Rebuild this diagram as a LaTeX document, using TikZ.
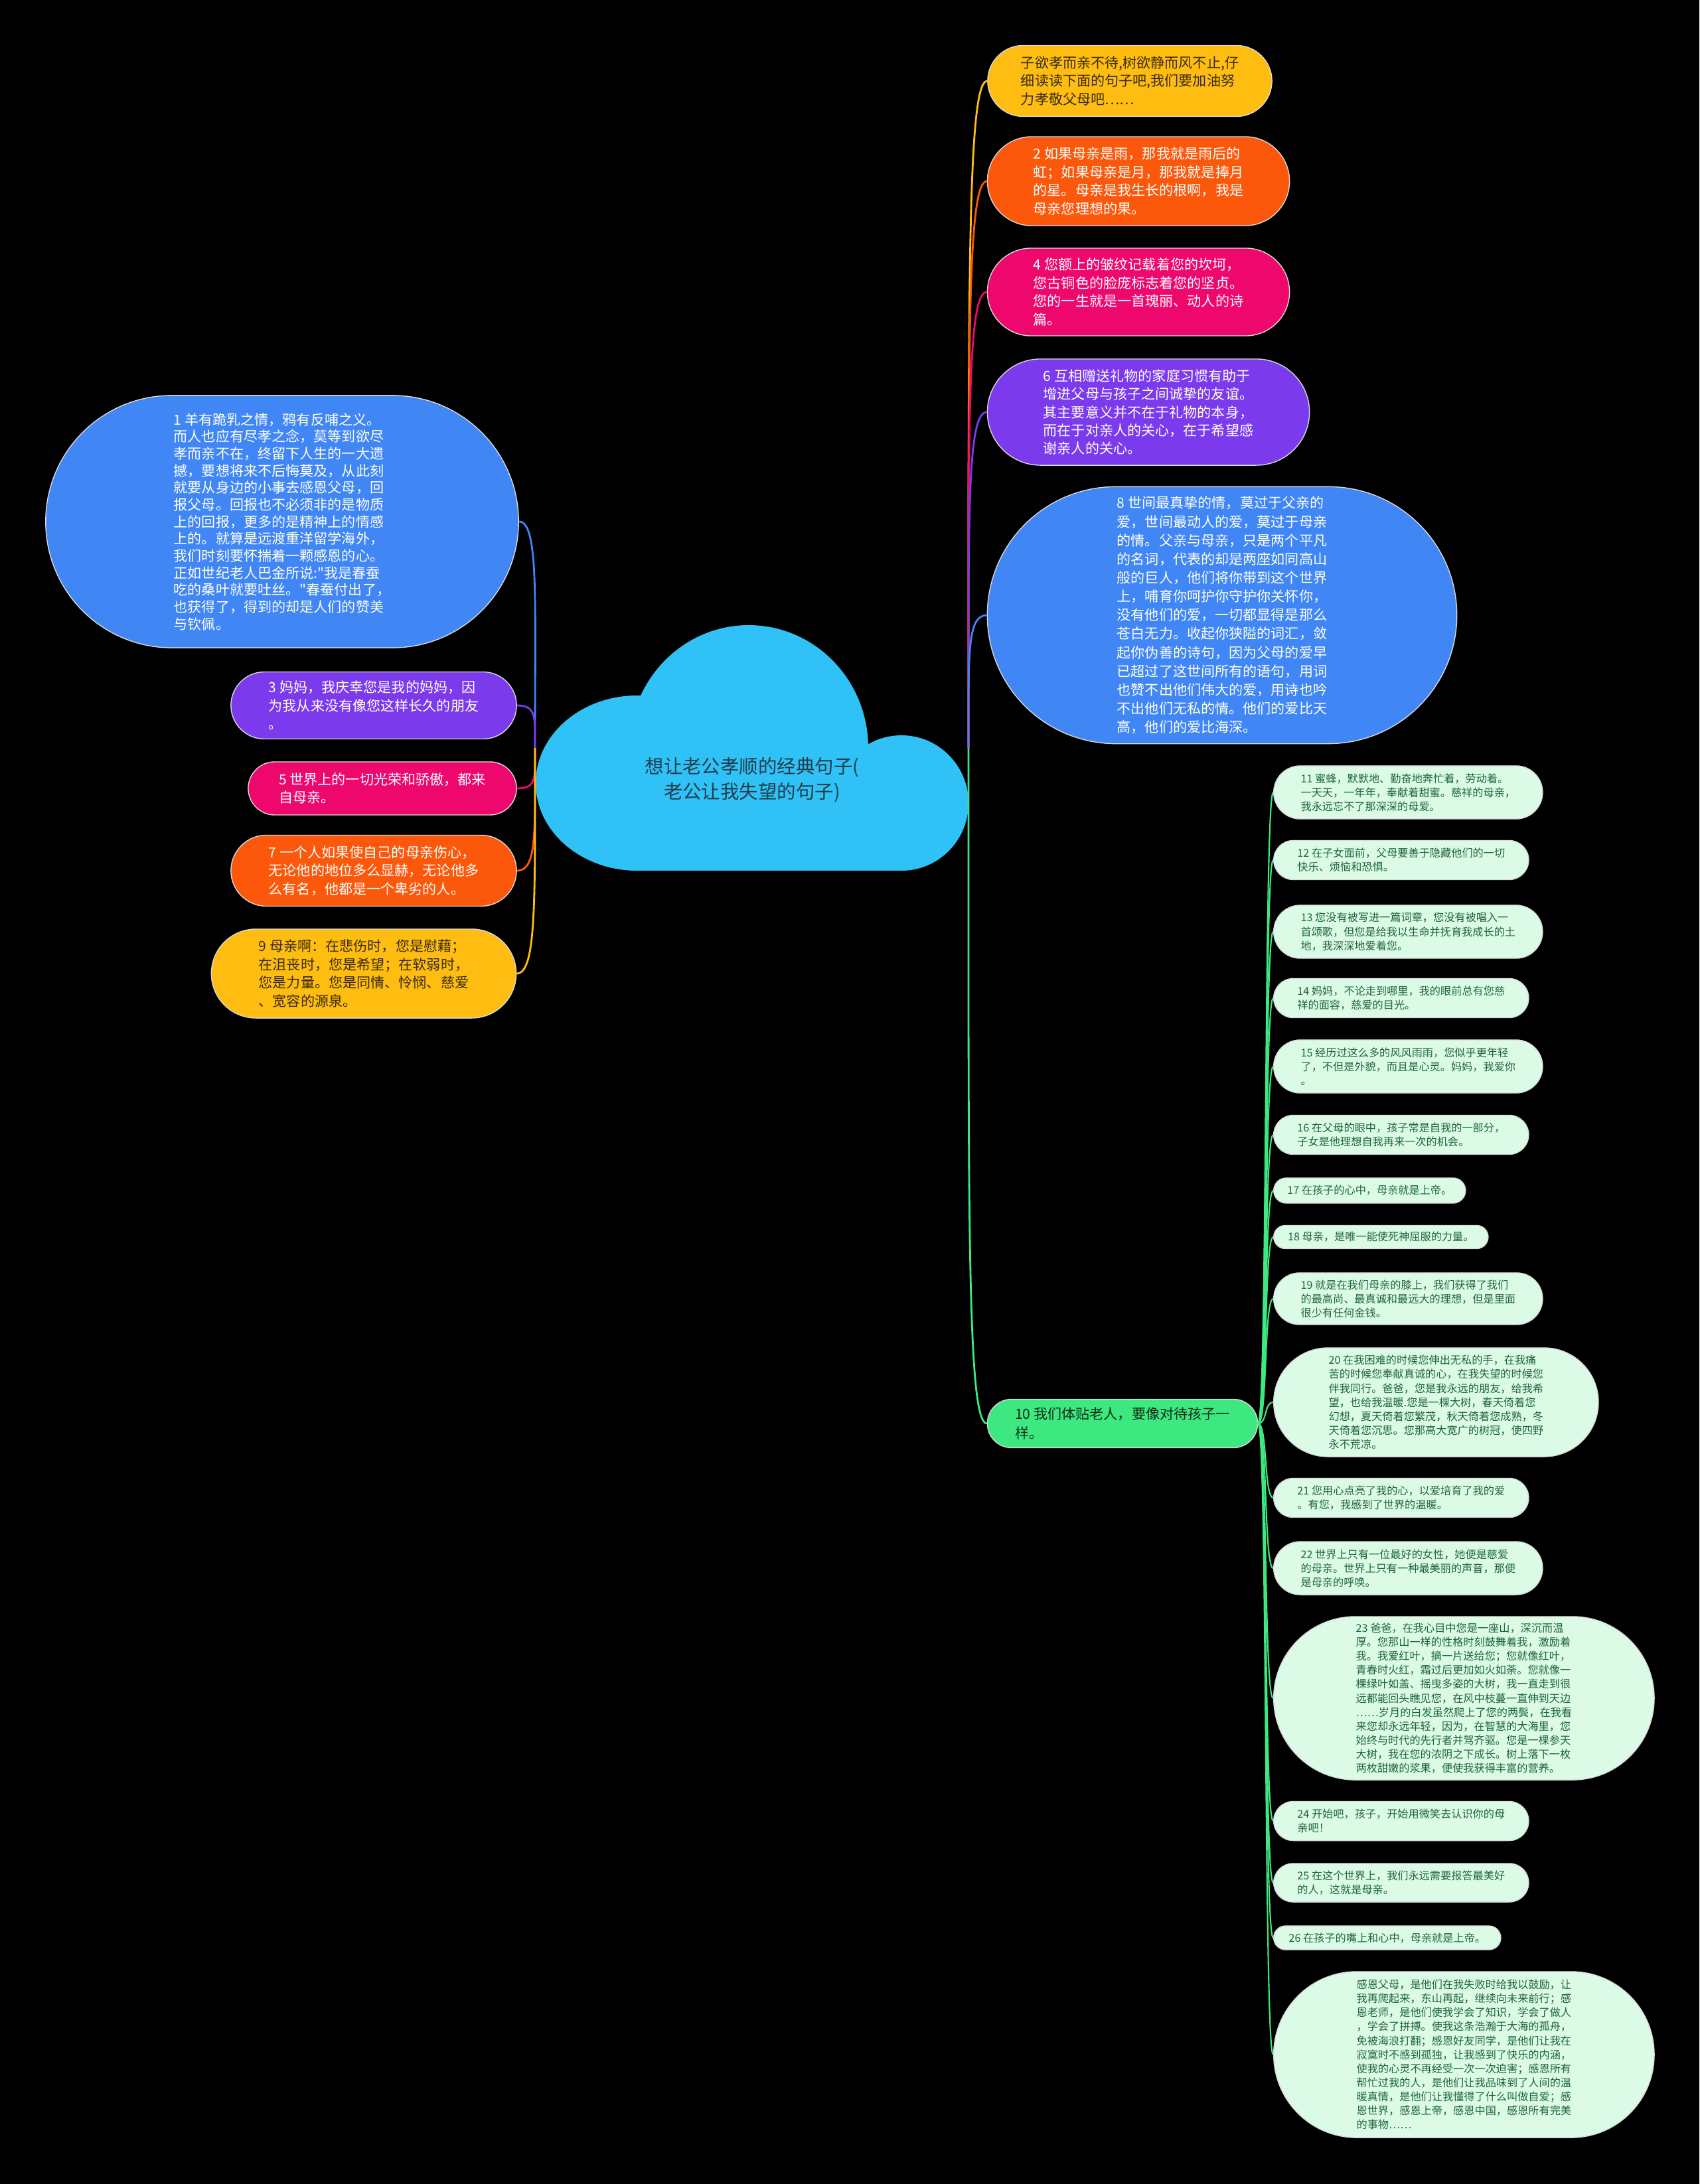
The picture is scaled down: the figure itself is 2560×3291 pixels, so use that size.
\documentclass[tikz,border=0pt]{standalone}
\usepackage{fontspec}
\setmainfont{Noto Sans CJK SC}
\usepackage{xcolor}
\usepackage{tikz}
\usetikzlibrary{shapes.misc}
\definecolor{mBlue}{RGB}{64,134,245}
\definecolor{mPurple}{RGB}{124,58,237}
\definecolor{mPink}{RGB}{238,8,110}
\definecolor{mOrange}{RGB}{252,88,12}
\definecolor{mYellow}{RGB}{254,189,16}
\definecolor{mGreen}{RGB}{62,232,128}
\definecolor{mMint}{RGB}{220,251,230}
\definecolor{mCloud}{RGB}{48,194,246}
\definecolor{mLeafText}{RGB}{28,100,58}
\definecolor{mDark}{RGB}{58,44,10}
\definecolor{mRootText}{RGB}{35,60,75}

\begin{document}
\begin{tikzpicture}[x=0.01cm, y=-0.01cm,
  bubble/.style={rounded rectangle, draw=white!85!black, line width=0.4pt, align=left, inner sep=0pt, text=white, font=\fontsize{6}{7.8}\selectfont},
  leaf/.style={bubble, fill=mMint, text=mLeafText, anchor=west, font=\fontsize{4.6}{6}\selectfont},
  stem/.style={line width=0.8pt},
  twig/.style={mGreen, line width=0.6pt}]
  % Canvas
  \useasboundingbox (0,0) rectangle (2560,3291);
  \fill[black] (0,0) rectangle (2560,3291);

  % Cloud + title
  \fill[mCloud] (960,1180) ellipse [x radius=153, y radius=132];
  \fill[mCloud] (1128,1127) ellipse [x radius=180, y radius=185];
  \fill[mCloud] (1358,1210) ellipse [x radius=101, y radius=102];
  \fill[mCloud] (960,1200) rectangle (1358,1312);
  \node[align=center, text=mRootText, font=\fontsize{8.1}{10.8}\selectfont] (root) at (1133,1175)
    {想让老公孝顺的经典句子(\\老公让我失望的句子)};
  \coordinate (hubL) at (806,1127);
  \coordinate (hubR) at (1459,1127);

  % Left side
  \node[bubble, fill=mBlue, minimum width=7.12cm, minimum height=3.80cm, font=\fontsize{6}{7.3}\selectfont] (n1) at (425,786)
    {1 羊有跪乳之情，鸦有反哺之义。\\而人也应有尽孝之念，莫等到欲尽\\孝而亲不在，终留下人生的一大遗\\撼，要想将来不后悔莫及，从此刻\\就要从身边的小事去感恩父母，回\\报父母。回报也不必须非的是物质\\上的回报，更多的是精神上的情感\\上的。就算是远渡重洋留学海外，\\我们时刻要怀揣着一颗感恩的心。\\正如世纪老人巴金所说:\textquotedbl{}我是春蚕\\吃的桑叶就要吐丝。\textquotedbl{}春蚕付出了，\\也获得了，得到的却是人们的赞美\\与钦佩。};
  \node[bubble, fill=mPurple, minimum width=4.30cm, minimum height=1.01cm] (n3) at (563,1063)
    {3 妈妈，我庆幸您是我的妈妈，因\\为我从来没有像您这样长久的朋友\\。};
  \node[bubble, fill=mPink, minimum width=4.04cm, minimum height=0.80cm] (n5) at (576,1188)
    {5 世界上的一切光荣和骄傲，都来\\自母亲。};
  \node[bubble, fill=mOrange, minimum width=4.30cm, minimum height=1.07cm] (n7) at (563,1312)
    {7 一个人如果使自己的母亲伤心，\\无论他的地位多么显赫，无论他多\\么有名，他都是一个卑劣的人。};
  \node[bubble, fill=mYellow, text=mDark, minimum width=4.59cm, minimum height=1.34cm] (n9) at (548,1467)
    {9 母亲啊：在悲伤时，您是慰藉；\\在沮丧时，您是希望；在软弱时，\\您是力量。您是同情、怜悯、慈爱\\、宽容的源泉。};

  % Right side
  \node[bubble, fill=mYellow, text=mDark, minimum width=4.28cm, minimum height=1.07cm] (top) at (1702,122)
    {子欲孝而亲不待,树欲静而风不止,仔\\细读读下面的句子吧,我们要加油努\\力孝敬父母吧……};
  \node[bubble, fill=mOrange, minimum width=4.55cm, minimum height=1.34cm] (n2) at (1715,273)
    {2 如果母亲是雨，那我就是雨后的\\虹；如果母亲是月，那我就是捧月\\的星。母亲是我生长的根啊，我是\\母亲您理想的果。};
  \node[bubble, fill=mPink, minimum width=4.55cm, minimum height=1.32cm] (n4) at (1715,440)
    {4 您额上的皱纹记载着您的坎坷，\\您古铜色的脸庞标志着您的坚贞。\\您的一生就是一首瑰丽、动人的诗\\篇。};
  \node[bubble, fill=mPurple, minimum width=4.85cm, minimum height=1.60cm] (n6) at (1730,621)
    {6 互相赠送礼物的家庭习惯有助于\\增进父母与孩子之间诚挚的友谊。\\其主要意义并不在于礼物的本身，\\而在于对亲人的关心，在于希望感\\谢亲人的关心。};
  \node[bubble, fill=mBlue, minimum width=7.07cm, minimum height=3.87cm, font=\fontsize{6}{8}\selectfont] (n8) at (1841,927)
    {8 世间最真挚的情，莫过于父亲的\\爱，世间最动人的爱，莫过于母亲\\的情。父亲与母亲，只是两个平凡\\的名词，代表的却是两座如同高山\\般的巨人，他们将你带到这个世界\\上，哺育你呵护你守护你关怀你，\\没有他们的爱，一切都显得是那么\\苍白无力。收起你狭隘的词汇，敛\\起你伪善的诗句，因为父母的爱早\\已超过了这世间所有的语句，用词\\也赞不出他们伟大的爱，用诗也吟\\不出他们无私的情。他们的爱比天\\高，他们的爱比海深。};
  \node[bubble, fill=mGreen, text=black!80!mGreen, minimum width=4.07cm, minimum height=0.73cm, font=\fontsize{6}{8.4}\selectfont] (n10) at (1691,2145)
    {10 我们体贴老人，要像对待孩子一\\样。};

  % Leaves of 10
  \node[leaf, minimum width=4.05cm, minimum height=0.80cm] (n11) at (1918,1194)
    {11 蜜蜂，默默地、勤奋地奔忙着，劳动着。\\一天天，一年年，奉献着甜蜜。慈祥的母亲，\\我永远忘不了那深深的母爱。};
  \node[leaf, minimum width=3.84cm, minimum height=0.59cm] (n12) at (1918,1296)
    {12 在子女面前，父母要善于隐藏他们的一切\\快乐、烦恼和恐惧。};
  \node[leaf, minimum width=4.05cm, minimum height=0.80cm] (n13) at (1918,1404)
    {13 您没有被写进一篇词章，您没有被唱入一\\首颂歌，但您是给我以生命并抚育我成长的土\\地，我深深地爱着您。};
  \node[leaf, minimum width=3.84cm, minimum height=0.59cm] (n14) at (1918,1504)
    {14 妈妈，不论走到哪里，我的眼前总有您慈\\祥的面容，慈爱的目光。};
  \node[leaf, minimum width=4.05cm, minimum height=0.80cm] (n15) at (1918,1607)
    {15 经历过这么多的风风雨雨，您似乎更年轻\\了，不但是外貌，而且是心灵。妈妈，我爱你\\。};
  \node[leaf, minimum width=3.84cm, minimum height=0.59cm] (n16) at (1918,1710)
    {16 在父母的眼中，孩子常是自我的一部分，\\子女是他理想自我再来一次的机会。};
  \node[leaf, minimum width=2.89cm, minimum height=0.38cm] (n17) at (1918,1794)
    {17 在孩子的心中，母亲就是上帝。};
  \node[leaf, minimum width=3.23cm, minimum height=0.35cm] (n18) at (1918,1864)
    {18 母亲，是唯一能使死神屈服的力量。};
  \node[leaf, minimum width=4.05cm, minimum height=0.78cm] (n19) at (1918,1957)
    {19 就是在我们母亲的膝上，我们获得了我们\\的最高尚、最真诚和最远大的理想，但是里面\\很少有任何金钱。};
  \node[leaf, minimum width=4.89cm, minimum height=1.64cm] (n20) at (1918,2113)
    {20 在我困难的时候您伸出无私的手，在我痛\\苦的时候您奉献真诚的心，在我失望的时候您\\伴我同行。爸爸，您是我永远的朋友，给我希\\望，也给我温暖.您是一棵大树，春天倚着您\\幻想，夏天倚着您繁茂，秋天倚着您成熟，冬\\天倚着您沉思。您那高大宽广的树冠，使四野\\永不荒凉。};
  \node[leaf, minimum width=3.84cm, minimum height=0.59cm] (n21) at (1918,2257)
    {21 您用心点亮了我的心，以爱培育了我的爱\\。有您，我感到了世界的温暖。};
  \node[leaf, minimum width=4.05cm, minimum height=0.80cm] (n22) at (1918,2363)
    {22 世界上只有一位最好的女性，她便是慈爱\\的母亲。世界上只有一种最美丽的声音，那便\\是母亲的呼唤。};
  \node[leaf, minimum width=5.73cm, minimum height=2.46cm] (n23) at (1918,2559)
    {23 爸爸，在我心目中您是一座山，深沉而温\\厚。您那山一样的性格时刻鼓舞着我，激励着\\我。我爱红叶，摘一片送给您；您就像红叶，\\青春时火红，霜过后更加如火如荼。您就像一\\棵绿叶如盖、摇曳多姿的大树，我一直走到很\\远都能回头瞧见您，在风中枝蔓一直伸到天边\\……岁月的白发虽然爬上了您的两鬓，在我看\\来您却永远年轻，因为，在智慧的大海里，您\\始终与时代的先行者并驾齐驱。您是一棵参天\\大树，我在您的浓阴之下成长。树上落下一枚\\两枚甜嫩的浆果，便使我获得丰富的营养。};
  \node[leaf, minimum width=3.84cm, minimum height=0.59cm] (n24) at (1918,2744)
    {24 开始吧，孩子，开始用微笑去认识你的母\\亲吧！};
  \node[leaf, minimum width=3.84cm, minimum height=0.58cm] (n25) at (1918,2837)
    {25 在这个世界上，我们永远需要报答最美好\\的人，这就是母亲。};
  \node[leaf, minimum width=3.42cm, minimum height=0.36cm] (n26) at (1918,2920)
    {26 在孩子的嘴上和心中，母亲就是上帝。};
  \node[leaf, minimum width=5.73cm, minimum height=2.50cm] (n27) at (1918,3096)
    {感恩父母，是他们在我失败时给我以鼓励，让\\我再爬起来，东山再起，继续向未来前行；感\\恩老师，是他们使我学会了知识，学会了做人\\，学会了拼搏。使我这条浩瀚于大海的孤舟，\\免被海浪打翻；感恩好友同学，是他们让我在\\寂寞时不感到孤独，让我感到了快乐的内涵，\\使我的心灵不再经受一次一次迫害；感恩所有\\帮忙过我的人，是他们让我品味到了人间的温\\暖真情，是他们让我懂得了什么叫做自爱；感\\恩世界，感恩上帝，感恩中国，感恩所有完美\\的事物……};

  % Stems, left
  \draw[stem, mBlue]   (hubL) .. controls +(0,-220) and +(30,0) .. (n1.east);
  \draw[stem, mPurple] (hubL) .. controls +(0,-45) and +(30,0) .. (n3.east);
  \draw[stem, mPink]   (hubL) .. controls +(0,45) and +(30,0) .. (n5.east);
  \draw[stem, mOrange] (hubL) .. controls +(0,130) and +(30,0) .. (n7.east);
  \draw[stem, mYellow] (hubL) .. controls +(0,230) and +(30,0) .. (n9.east);

  % Stems, right
  \draw[stem, mYellow] (hubR) .. controls +(0,-700) and +(-30,0) .. (top.west);
  \draw[stem, mOrange] (hubR) .. controls +(0,-600) and +(-30,0) .. (n2.west);
  \draw[stem, mPink]   (hubR) .. controls +(0,-480) and +(-30,0) .. (n4.west);
  \draw[stem, mPurple] (hubR) .. controls +(0,-350) and +(-30,0) .. (n6.west);
  \draw[stem, mBlue]   (hubR) .. controls +(0,-140) and +(-30,0) .. (n8.west);
  \draw[stem, mGreen]  (hubR) .. controls +(0,700) and +(-30,0) .. (n10.west);

  % Twigs
  \foreach \n in {11,...,27}
    \draw[twig] (n10.east) .. controls +(14,0) and +(-14,0) .. (n\n.west);
\end{tikzpicture}
\end{document}
